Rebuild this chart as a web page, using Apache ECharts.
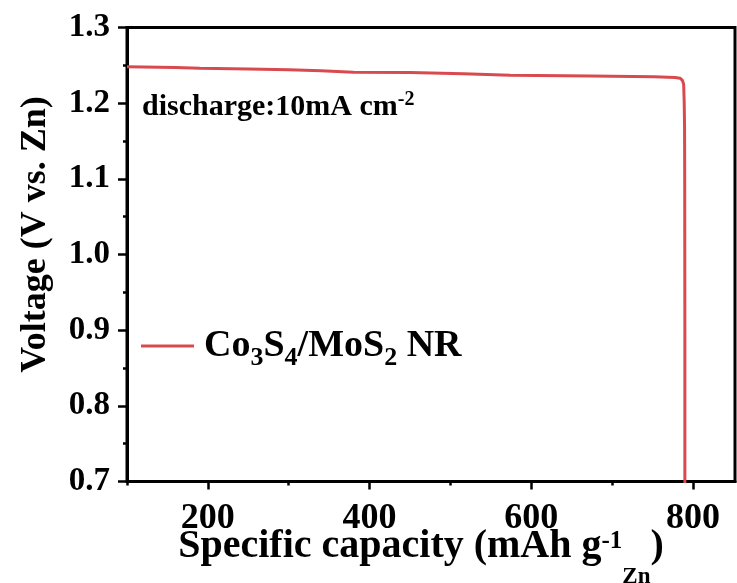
<!DOCTYPE html>
<html>
<head>
<meta charset="utf-8">
<script src="https://cdn.jsdelivr.net/npm/echarts@6/dist/echarts.min.js"></script>
<style>html,body{margin:0;padding:0;background:#fff;}#c{width:737px;height:583px;}</style>
</head>
<body>
<div id="c"></div>
<script>
// Data
const capacity = [100, 160, 190, 250, 300, 340, 380, 450, 516, 574, 674, 752, 778, 784, 787, 788.5, 789.2, 789.6, 789.8, 790, 790];
const voltage  = [1.248, 1.247, 1.246, 1.245, 1.244, 1.243, 1.241, 1.2405, 1.239, 1.237, 1.236, 1.235, 1.234, 1.233, 1.230, 1.225, 1.20, 1.17, 1.10, 0.90, 0.60];
const xTickValues = [200, 400, 600, 800];
const xMinorValues = [100, 300, 500, 700];
const seriesName = 'Co3S4/MoS2 NR';

const FONT = '"Liberation Serif", "Times New Roman", serif';
const chart = echarts.init(document.getElementById('c'), null, {renderer: 'canvas'});
const pts = capacity.map((c, i) => [c, voltage[i]]);

chart.setOption({
  animation: false,
  backgroundColor: '#fff',
  grid: {left: 127, right: 2, top: 27.5, bottom: 101.5, show: true, borderColor: '#000', borderWidth: 3, containLabel: false, outerBoundsMode: 'none'},
  title: {
    text: '{a|discharge:10mA cm}{b|-2}',
    left: 137, top: 85,
    textStyle: {
      rich: {
        a: {fontFamily: FONT, fontWeight: 'bold', fontSize: 30, lineHeight: 34, color: '#000', verticalAlign: 'middle'},
        b: {fontFamily: FONT, fontWeight: 'bold', fontSize: 20, lineHeight: 20, color: '#000', verticalAlign: 'top'}
      }
    }
  },
  legend: {
    left: 136, top: 322,
    icon: 'rect', itemWidth: 53, itemHeight: 3,
    data: [seriesName],
    formatter: () => '{a|Co}{s|3}{a|S}{s|4}{a|/MoS}{s|2}{a| NR}',
    textStyle: {
      padding: [0, 0, 0, 5],
      rich: {
        a: {fontFamily: FONT, fontWeight: 'bold', fontSize: 38, lineHeight: 50, color: '#000', verticalAlign: 'middle'},
        s: {fontFamily: FONT, fontWeight: 'bold', fontSize: 26, lineHeight: 26, color: '#000', verticalAlign: 'bottom'}
      }
    }
  },
  xAxis: [{
    type: 'value', min: 100, max: 852,
    axisLine: {show: true, lineStyle: {color: '#000', width: 3}},
    axisTick: {show: true, inside: false, length: 8, lineStyle: {color: '#000', width: 2.5}, customValues: xTickValues},
    axisLabel: {customValues: xTickValues, margin: 19, fontFamily: FONT, fontWeight: 'bold', fontSize: 36, color: '#000'},
    splitLine: {show: false},
    name: '{a|Specific capacity (mAh g}{p|-1}{s|Zn}{a|)}',
    nameLocation: 'middle', nameGap: 24, nameMoveOverlap: false,
    nameTextStyle: {
      padding: [0, 20, 0, 0],
      rich: {
        a: {fontFamily: FONT, fontWeight: 'bold', fontSize: 40, lineHeight: 83, color: '#000', verticalAlign: 'middle'},
        p: {fontFamily: FONT, fontWeight: 'bold', fontSize: 25, lineHeight: 25, color: '#000', verticalAlign: 'middle', padding: [0, 0, 11, 0]},
        s: {fontFamily: FONT, fontWeight: 'bold', fontSize: 23, lineHeight: 23, color: '#000', verticalAlign: 'bottom'}
      }
    }
  }, {
    type: 'value', min: 100, max: 852, position: 'bottom',
    axisLine: {show: false},
    axisTick: {show: true, inside: false, length: 4, lineStyle: {color: '#000', width: 2.5}, customValues: xMinorValues},
    axisLabel: {show: false},
    splitLine: {show: false}
  }],
  yAxis: {
    type: 'value', min: 0.7, max: 1.3, interval: 0.1,
    axisLine: {show: true, lineStyle: {color: '#000', width: 3}},
    axisTick: {show: true, inside: false, length: 9, lineStyle: {color: '#000', width: 2.5}},
    minorTick: {show: true, splitNumber: 2, length: 4, lineStyle: {color: '#000', width: 2.5}},
    axisLabel: {margin: 17, fontFamily: FONT, fontWeight: 'bold', fontSize: 33, color: '#000', formatter: v => v.toFixed(1)},
    splitLine: {show: false},
    name: 'Voltage (V vs. Zn)',
    nameLocation: 'middle', nameGap: 73, nameRotate: 90, nameMoveOverlap: false,
    nameTextStyle: {fontFamily: FONT, fontWeight: 'bold', fontSize: 36, color: '#000', padding: [0, 0, 0, 40]}
  },
  series: [{
    name: seriesName,
    type: 'line',
    data: pts,
    showSymbol: false,
    clip: true,
    lineStyle: {color: '#d94a4f', width: 3},
    itemStyle: {color: '#d94a4f'}
  }]
});
</script>
</body>
</html>
